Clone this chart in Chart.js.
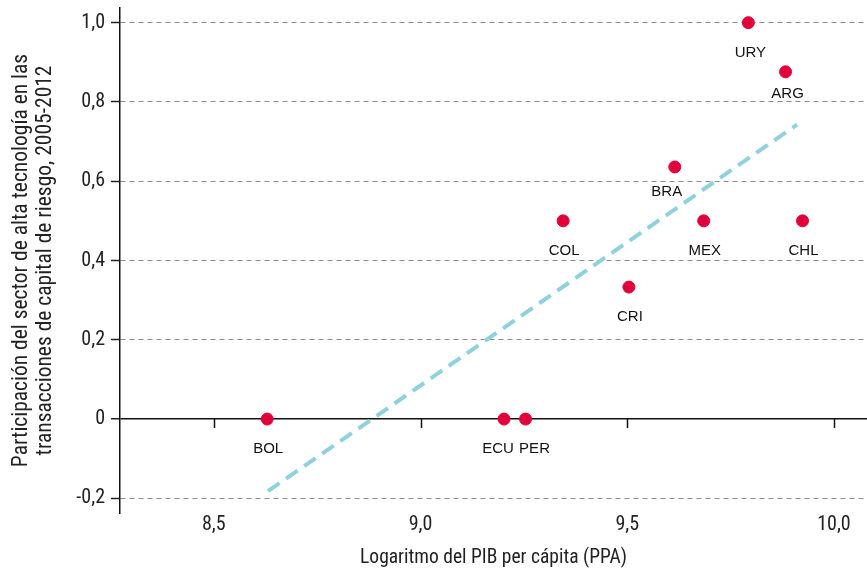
<!DOCTYPE html>
<html>
<head>
<meta charset="utf-8">
<script src="https://cdn.jsdelivr.net/npm/chart.js@4.4.1/dist/chart.umd.min.js"></script>
<style>
  html, body { margin: 0; padding: 0; background: #ffffff; }
  #wrap { width: 867px; height: 569px; position: relative; }
</style>
</head>
<body>
<div id="wrap"><canvas id="c" width="867" height="569"></canvas></div>
<script>
// ---- Data ----
const countries = ['BOL', 'ECU', 'PER', 'COL', 'CRI', 'BRA', 'MEX', 'CHL', 'URY', 'ARG'];
const logGdp    = [8.629, 9.202, 9.254, 9.345, 9.504, 9.615, 9.685, 9.924, 9.793, 9.883];
const hiTechShare = [0, 0, 0, 0.5, 0.333, 0.636, 0.5, 0.5, 1.0, 0.876];
const trendX = [8.631, 9.911];
const trendY = [-0.182, 0.743];
const xTicks = [8.5, 9.0, 9.5, 10.0];
const yTicks = [-0.2, 0, 0.2, 0.4, 0.6, 0.8, 1.0];
const xTitle = 'Logaritmo del PIB per cápita (PPA)';
const yTitle = ['Participación del sector de alta tecnología en las', 'transacciones de capital de riesgo, 2005-2012'];

// label nudges (style only)
const labelNudge = { ECU: [-6, 30], PER: [9, 30], BRA: [-8, 25], ARG: [2, 22], URY: [2, 30] };

const NARROW = "'Liberation Sans Narrow', 'Roboto Condensed', 'DejaVu Sans Condensed', sans-serif";
const fmt = v => (Math.abs(v) < 1e-9 ? '0' : v.toFixed(1).replace('.', ','));

const pts = countries.map((c, i) => ({ x: logGdp[i], y: hiTechShare[i], label: c }));
const trend = trendX.map((x, i) => ({ x: x, y: trendY[i] }));

const decor = {
  id: 'decor',
  afterDatasetsDraw(chart) {
    const { ctx, scales: { x, y } } = chart;
    const y0 = y.getPixelForValue(0);
    ctx.save();
    ctx.strokeStyle = '#111';
    ctx.lineWidth = 1.5;
    xTicks.forEach(v => {
      const px = Math.round(x.getPixelForValue(v)) + 0.5;
      ctx.beginPath();
      ctx.moveTo(px, y0);
      ctx.lineTo(px, y0 + 9);
      ctx.stroke();
    });
    ctx.fillStyle = '#111';
    ctx.font = "15px 'Liberation Sans', Arial, sans-serif";
    ctx.textAlign = 'center';
    ctx.textBaseline = 'middle';
    pts.forEach(p => {
      const n = labelNudge[p.label] || [1, 30];
      ctx.fillText(p.label, x.getPixelForValue(p.x) + n[0], y.getPixelForValue(p.y) + n[1]);
    });
    ctx.restore();
  }
};

new Chart(document.getElementById('c'), {
  type: 'scatter',
  data: {
    datasets: [
      {
        label: 'Países',
        data: pts,
        backgroundColor: '#e2003a',
        borderColor: '#e2003a',
        pointRadius: 6,
        pointHoverRadius: 6,
        order: 1
      },
      {
        type: 'line',
        label: 'Tendencia',
        data: trend,
        showLine: true,
        borderColor: '#8fd1dc',
        borderWidth: 4,
        borderDash: [14, 8],
        pointRadius: 0,
        fill: false,
        order: 2
      }
    ]
  },
  options: {
    responsive: false,
    animation: false,
    devicePixelRatio: 1,
    layout: { autoPadding: false, padding: { top: 8, left: 0, right: 0, bottom: 0 } },
    plugins: { legend: { display: false }, tooltip: { enabled: false } },
    scales: {
      x: {
        type: 'linear',
        min: 8.273,
        max: 10.08,
        afterBuildTicks: s => { s.ticks = xTicks.map(v => ({ value: v })); },
        afterFit: s => { s.height = 56; s.paddingLeft = 0; s.paddingRight = 0; },
        grid: { display: false },
        border: { display: false },
        ticks: {
          callback: v => fmt(v),
          color: '#222',
          padding: -8,
          font: { family: NARROW, size: 20 }
        },
        title: {
          display: true,
          text: xTitle,
          color: '#222',
          padding: { top: 0, bottom: -1 },
          font: { family: NARROW, size: 19.5 }
        }
      },
      y: {
        type: 'linear',
        min: -0.237,
        max: 1.037,
        afterBuildTicks: s => { s.ticks = yTicks.map(v => ({ value: v })); },
        afterFit: s => { s.width = 120; s.paddingTop = 0; s.paddingBottom = 0; },
        grid: {
          color: c => (c.tick && Math.abs(c.tick.value) < 1e-9 ? '#111' : '#8a8a8a'),
          lineWidth: c => (c.tick && Math.abs(c.tick.value) < 1e-9 ? 1.5 : 1),
          tickColor: '#222',
          tickLength: 9,
          tickWidth: 1.5
        },
        border: {
          display: true,
          color: '#111',
          width: 1.5,
          dash: c => (c.tick && Math.abs(c.tick.value) < 1e-9 ? [] : [5, 4])
        },
        ticks: {
          callback: v => fmt(v),
          color: '#222',
          padding: 6,
          font: { family: NARROW, size: 20 }
        },
        title: {
          display: true,
          text: yTitle,
          color: '#222',
          padding: { top: 9, bottom: 0 },
          font: { family: NARROW, size: 21.5, lineHeight: 1.15 }
        }
      }
    }
  },
  plugins: [decor]
});
</script>
</body>
</html>
